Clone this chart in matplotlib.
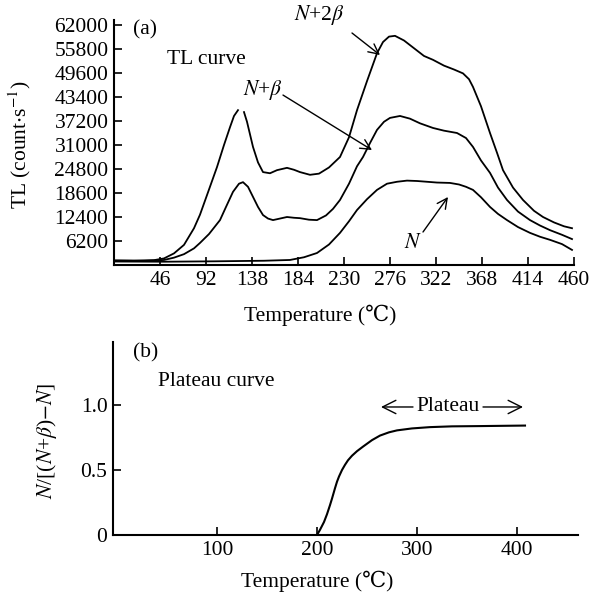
import numpy as np
import matplotlib
matplotlib.use("Agg")
import matplotlib.pyplot as plt

plt.rcParams['font.family'] = ['Liberation Serif', 'DejaVu Serif', 'Noto Sans CJK SC']
plt.rcParams['mathtext.fontset'] = 'stix'

# (a) TL curves, temperature in degC, counts per second
t_2b = [0, 20, 40, 50, 60, 70, 80, 86, 95, 103, 110, 116, 120, 124, np.nan, 130, 133, 139, 144,
        149, 156, 163, 173, 180, 186, 196, 205, 215, 226, 235, 243, 253, 263, 269, 275, 281, 290,
        300, 310, 319, 330, 340, 349, 355, 359, 367, 376, 383, 389, 399, 409, 420, 429, 440, 450, 458]
tl_2b = [1200, 1150, 1250, 1700, 3000, 5200, 9500, 13000, 19500, 25300, 31000, 35600, 38500, 40000,
         np.nan, 39500, 37000, 30500, 26500, 24000, 23700, 24500, 25100, 24600, 24000, 23300, 23600,
         25200, 27900, 33000, 40000, 47500, 54700, 57600, 59000, 59200, 58000, 56000, 54000, 53000,
         51500, 50500, 49500, 48000, 46000, 41000, 34100, 29000, 24500, 20000, 16800, 14000, 12400,
         11000, 10000, 9500]

t_1b = [0, 30, 50, 60, 70, 80, 86, 95, 106, 112, 119, 125, 129, 134, 139, 144, 149, 154, 159, 166,
        173, 180, 186, 195, 203, 212, 219, 226, 235, 243, 249, 256, 263, 270, 276, 286, 296, 306,
        319, 330, 343, 352, 359, 367, 376, 384, 393, 404, 416, 426, 436, 448, 458]
tl_1b = [1100, 1050, 1300, 1900, 2800, 4300, 5700, 8000, 11600, 15000, 18900, 21000, 21400, 20200,
         17600, 15000, 12900, 12000, 11600, 12000, 12400, 12200, 12100, 11700, 11600, 12800, 14500,
         16800, 21000, 25500, 27900, 31500, 34900, 37000, 38000, 38500, 37800, 36600, 35400, 34700,
         34100, 32800, 30500, 27000, 23800, 20000, 16800, 13800, 11600, 10200, 9000, 7800, 6700]

t_n = [0, 50, 100, 150, 176, 190, 203, 215, 226, 235, 243, 253, 263, 273, 283, 293, 303, 313, 323,
       336, 345, 352, 359, 367, 376, 384, 393, 404, 416, 426, 436, 448, 458]
tl_n = [900, 850, 950, 1100, 1300, 2000, 3100, 5300, 8300, 11300, 14200, 17000, 19400, 21000, 21500,
        21800, 21700, 21500, 21300, 21200, 20800, 20200, 19400, 17500, 15000, 13200, 11600, 9800,
        8300, 7300, 6500, 5400, 3900]

# (b) plateau curve
t_pl = [200, 203, 207, 210, 213, 215, 218, 220, 222, 225, 228, 231, 235, 240, 246, 255, 263, 272,
        280, 295, 313, 335, 363, 385, 408]
ratio = [0, 0.04, 0.10, 0.16, 0.23, 0.28, 0.36, 0.41, 0.45, 0.50, 0.54, 0.575, 0.61, 0.645, 0.68,
         0.73, 0.765, 0.79, 0.805, 0.82, 0.83, 0.836, 0.838, 0.84, 0.842]

xt_a = [46, 92, 138, 184, 230, 276, 322, 368, 414, 460]
yt_a = [6200, 12400, 18600, 24800, 31000, 37200, 43400, 49600, 55800, 62000]
xt_b = [100, 200, 300, 400]
yt_b = [0, 0.5, 1.0]
yl_b = ['0', '0.5', '1.0']

fs = 15.5
fig = plt.figure(figsize=(5.89, 5.98), dpi=100)

ax1 = fig.add_axes([114/589, 1-265/598, 460/589, 245/598])
ax1.plot(t_2b, tl_2b, color='black', lw=1.3)
ax1.plot(t_1b, tl_1b, color='black', lw=1.3)
ax1.plot(t_n, tl_n, color='black', lw=1.3)
ax1.set_xlim(0, 460)
ax1.set_ylim(0, 63290)
ax1.set_xticks(xt_a)
ax1.set_yticks(yt_a)
ax1.set_xlabel('Temperature (℃)', fontsize=fs)
ax1.set_ylabel(r'TL (count$\cdot$s$^{-1}$)', fontsize=fs)
ax1.xaxis.set_label_coords(0.448, -0.16)
ax1.yaxis.set_label_coords(-0.176, 0.49)
ax1.text(19, 60700, '(a)', fontsize=fs, va='center')
ax1.text(53, 52960, 'TL curve', fontsize=fs, va='center')
ap = dict(arrowstyle='->', lw=1, color='black', mutation_scale=18, shrinkA=0, shrinkB=0)
ax1.annotate('', xy=(266, 54250), xytext=(238, 59930), arrowprops=ap)
ax1.text(205, 64580, r'$N$+2$\beta$', fontsize=fs, ha='center', va='center')
ax1.annotate('', xy=(258, 29700), xytext=(169, 43900), arrowprops=ap)
ax1.text(149, 45200, r'$N$+$\beta$', fontsize=fs, ha='center', va='center')
ax1.annotate('', xy=(334, 17570), xytext=(309, 8525), arrowprops=ap)
ax1.text(299, 5680, r'$N$', fontsize=fs, ha='center', va='center')

ax2 = fig.add_axes([113/589, 1-535/598, 465/589, 193/598])
ax2.plot(t_pl, ratio, color='black', lw=1.5)
ax2.set_xlim(-4, 461)
ax2.set_ylim(0, 1.485)
ax2.set_xticks(xt_b)
ax2.set_yticks(yt_b)
ax2.set_yticklabels(yl_b)
ax2.set_xlabel('Temperature (℃)', fontsize=fs)
ax2.set_ylabel(r'$N$/[($N$+$\beta$)$-$$N$]', fontsize=fs)
ax2.xaxis.set_label_coords(0.44, -0.185)
ax2.yaxis.set_label_coords(-0.116, 0.49)
ax2.text(16, 1.40, '(b)', fontsize=fs, va='center')
ax2.text(41, 1.18, 'Plateau curve', fontsize=fs, va='center')
ax2.text(331, 0.985, 'Plateau', fontsize=fs, ha='center', va='center')
ap2 = dict(arrowstyle='->', lw=1, color='black', mutation_scale=24, shrinkA=0, shrinkB=0)
ax2.annotate('', xy=(264, 0.985), xytext=(296, 0.985), arrowprops=ap2)
ax2.annotate('', xy=(406, 0.985), xytext=(366, 0.985), arrowprops=ap2)

for ax in (ax1, ax2):
    ax.spines['top'].set_visible(False)
    ax.spines['right'].set_visible(False)
    ax.spines['left'].set_linewidth(1.5)
    ax.spines['bottom'].set_linewidth(1.5)
    ax.tick_params(direction='in', length=6, width=1.2, labelsize=fs, pad=4)

fig.savefig('out.png', dpi=100)
